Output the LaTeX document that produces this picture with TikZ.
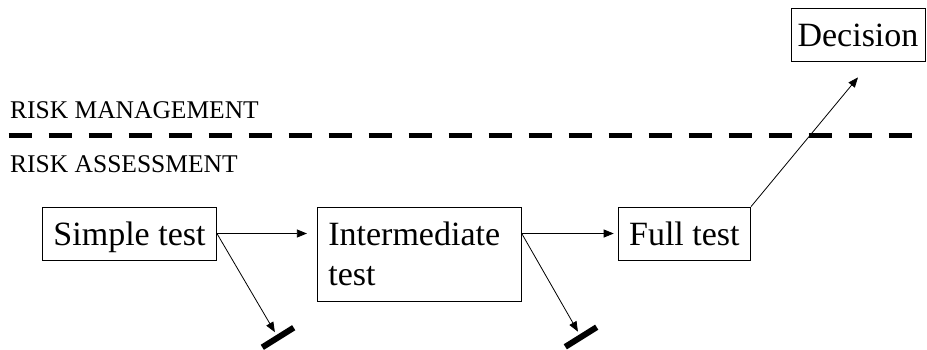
\documentclass[tikz,border=0pt]{standalone}
\usepackage{fontspec}
\setmainfont{Liberation Serif}
\usetikzlibrary{arrows.meta, positioning}

\begin{document}
\begin{tikzpicture}[x=1pt, y=-1pt, >={Triangle[length=10pt,width=8pt]},
  testbox/.style={draw, line width=0.8pt, inner xsep=11pt, inner ysep=0pt,
                  font=\fontsize{34}{40}\selectfont},
  onerow/.style={text height=38pt, text depth=15pt},
  stopbar/.style={fill, inner sep=0pt, minimum width=37pt, minimum height=6pt, rotate=32},
  layer/.style={font=\fontsize{25.5}{30}\selectfont, anchor=base west, inner sep=0pt},
  flow/.style={->, line width=0.8pt}]
  \useasboundingbox (0,0) rectangle (927,349);

  % the two levels
  \node[layer] (mgmt)   at (10,118) {RISK MANAGEMENT};
  \node[layer] (assess) at (10,172) {RISK ASSESSMENT};
  \coordinate (divleft)  at (8.5,135);
  \coordinate (divright) at (927,135);
  \draw[line width=5pt, dash pattern=on 23pt off 17pt] (divleft) -- (divright);

  % tiers
  \node[testbox, onerow] (simple) at (129.5,233.5) {Simple test};
  \node[testbox, text width=182pt, align=left, minimum height=94pt,
        right=100pt of simple.north east, anchor=north west] (inter) {Intermediate\\test};
  \node[testbox, onerow, right=96pt of inter.north east, anchor=north west] (full) {Full test};
  \node[testbox, onerow, inner xsep=6.5pt] (decision) at (858,34.5) {Decision};

  % stop marks
  \node[stopbar] (stop1) at (278,337.5) {};
  \node[stopbar] (stop2) at (581,337) {};

  \draw[flow, shorten >=10pt] (simple.east) -- (simple.east -| inter.west);
  \draw[flow, shorten >=4pt] (inter.east |- simple.east) -- (full.west |- simple.east);
  \draw[flow, shorten >=3pt] (simple.east) -- (stop1);
  \draw[flow, shorten >=3pt] (inter.east |- simple.east) -- (stop2);
  \draw[flow] (full.north east) -- ([yshift=-16pt]decision.south);
\end{tikzpicture}
\end{document}
